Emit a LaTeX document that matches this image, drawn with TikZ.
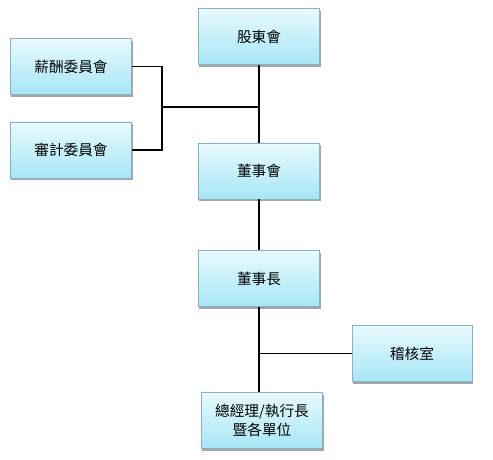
\documentclass[tikz,border=0pt]{standalone}
\usepackage{fontspec}
\setmainfont{Noto Sans CJK TC}
\usetikzlibrary{shadows}
\definecolor{boxtop}{HTML}{E8FAFD}
\definecolor{boxbot}{HTML}{A6E6F6}
\definecolor{boxline}{HTML}{86B3C3}
\tikzset{
  orgbox/.style={draw=boxline, line width=0.7pt, top color=boxtop, bottom color=boxbot,
    minimum width=#1, minimum height=42pt, inner sep=1pt, align=center,
    font=\fontsize{11}{14}\selectfont,
    drop shadow={shadow xshift=0.8pt, shadow yshift=-1.6pt, opacity=0.35, fill=black}},
  orgbox/.default=91pt,
  link/.style={draw=black, line width=0.8pt}
}
\begin{document}
\begin{tikzpicture}[x=0.75pt, y=-0.75pt]
\useasboundingbox (0,0) rectangle (493,460);
\node[orgbox] (sh) at (259,36.5) {股東會};
\node[orgbox] (xc) at (71,66.5) {薪酬委員會};
\node[orgbox] (sj) at (71,150) {審計委員會};
\node[orgbox] (dsh) at (259,171) {董事會};
\node[orgbox] (dsz) at (259,278.5) {董事長};
\node[orgbox=90pt] (jh) at (412,353.5) {稽核室};
\node[orgbox] (zjl) at (262,420.5) {總經理/執行長\\暨各單位};
\coordinate (j1) at (162,107);
\path[link] (sh.south) -- (dsh.north);
\path[link] (dsh.south) -- (dsz.north);
\path[link] (dsz.south) -- (dsz.south |- zjl.north);
\path[link] (xc.east) -| (j1);
\path[link] (sj.east) -| (j1);
\path[link] (j1) -- (j1 -| sh.south);
\path[link] (jh.west) -- (jh.west -| dsz.south);
\end{tikzpicture}
\end{document}
